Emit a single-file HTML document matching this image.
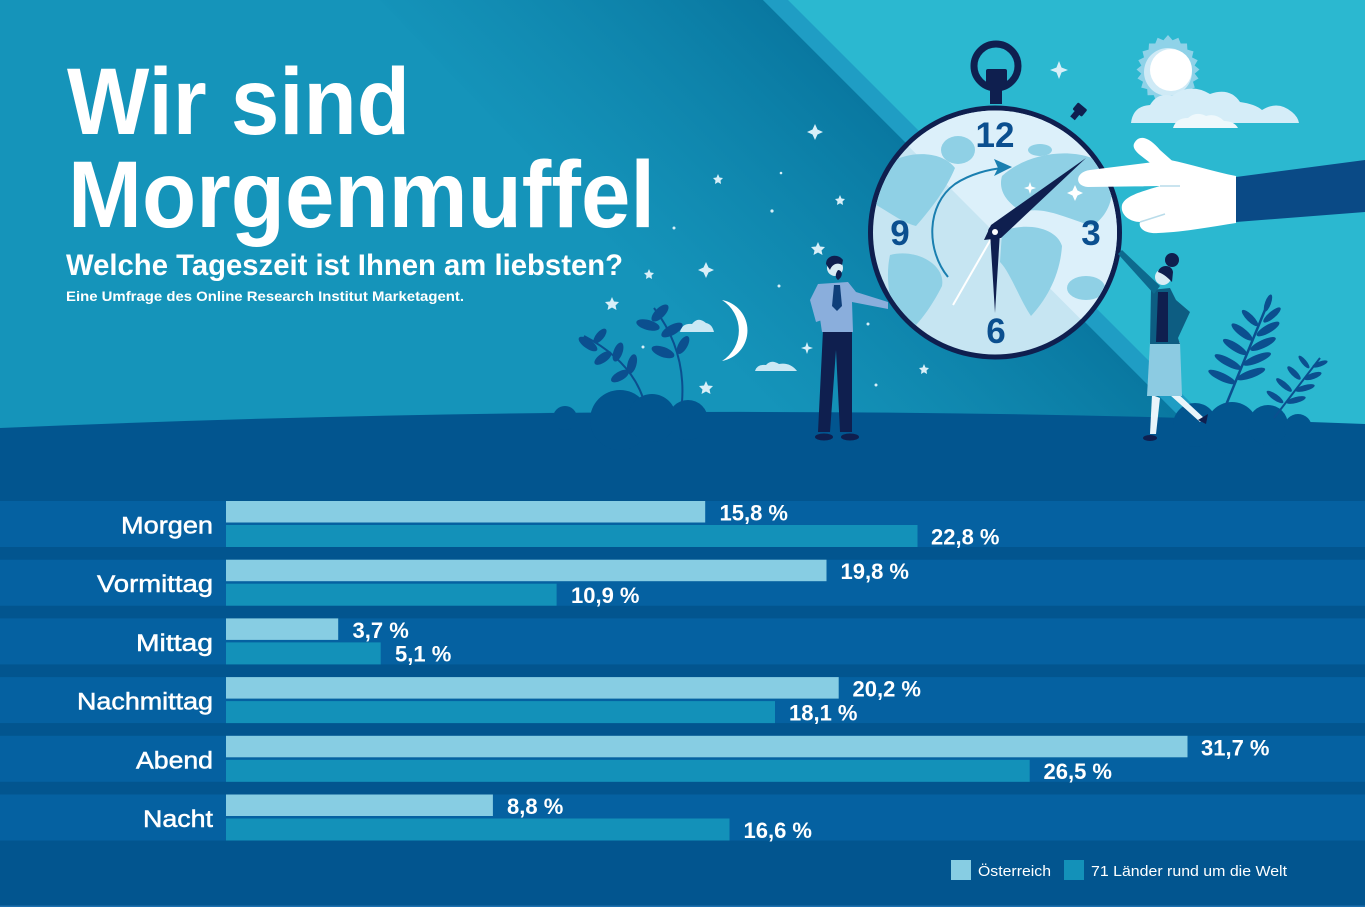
<!DOCTYPE html>
<html>
<head>
<meta charset="utf-8">
<style>
html,body{margin:0;padding:0;background:#02558f;}
svg{display:block;}
text{font-family:"Liberation Sans",Arial,sans-serif;}
</style>
</head>
<body>
<svg width="1365" height="907" viewBox="0 0 1365 907" xmlns="http://www.w3.org/2000/svg">
<defs>
  <linearGradient id="beam" gradientUnits="userSpaceOnUse" x1="560" y1="200" x2="790" y2="-30">
    <stop offset="0" stop-color="#0a7aa3" stop-opacity="0"/>
    <stop offset="1" stop-color="#07739c" stop-opacity="1"/>
  </linearGradient>
  <clipPath id="face"><circle cx="995" cy="232.5" r="122"/></clipPath>
</defs>

<!-- top background -->
<rect x="0" y="0" width="1365" height="460" fill="#1594ba"/>
<polygon points="380,0 763,0 1203,440 800,440" fill="url(#beam)"/>
<polygon points="763,0 790,0 1230,440 1203,440" fill="#1f9dc4"/>
<polygon points="788,0 1365,0 1365,440 1228,440" fill="#2bb8d0"/>

<!-- stars -->
<g fill="#d8eff8">
  <path d="M815,124 L817.5,129.5 L823,132 L817.5,134.5 L815,140 L812.5,134.5 L807,132 L812.5,129.5Z"/>
  <path d="M706,262 L708.5,267.5 L714,270 L708.5,272.5 L706,278 L703.5,272.5 L698,270 L703.5,267.5Z"/>
  <path d="M1059,61 L1061.5,67.5 L1068,70 L1061.5,72.5 L1059,79 L1056.5,72.5 L1050,70 L1056.5,67.5Z"/>
  <path d="M807,342 L808.5,346.5 L813,348 L808.5,349.5 L807,354 L805.5,349.5 L801,348 L805.5,346.5Z"/>
  <polygon points="718,174 719.5,177.5 723,178 720.5,180.5 721,184 718,182.3 715,184 715.5,180.5 713,178 716.5,177.5"/>
  <polygon points="840,195 841.5,198.5 845,199 842.5,201.5 843,205 840,203.3 837,205 837.5,201.5 835,199 838.5,198.5"/>
  <polygon points="818,242 820,246.5 825,247 821.5,250.5 822.5,255 818,252.5 813.5,255 814.5,250.5 811,247 816,246.5"/>
  <polygon points="649,269 650.5,272.5 654,273 651.5,275.5 652,279 649,277.3 646,279 646.5,275.5 644,273 647.5,272.5"/>
  <polygon points="612,297 614,301.5 619,302 615.5,305.5 616.5,310 612,307.5 607.5,310 608.5,305.5 605,302 610,301.5"/>
  <polygon points="924,364 925.5,367.5 929,368 926.5,370.5 927,374 924,372.3 921,374 921.5,370.5 919,368 922.5,367.5"/>
  <polygon points="706,381 708,385.5 713,386 709.5,389.5 710.5,394 706,391.5 701.5,394 702.5,389.5 699,386 704,385.5"/>
  <circle cx="772" cy="211" r="1.6"/>
  <circle cx="674" cy="228" r="1.5"/>
  <circle cx="779" cy="286" r="1.5"/>
  <circle cx="868" cy="324" r="1.5"/>
  <circle cx="876" cy="385" r="1.5"/>
  <circle cx="643" cy="347" r="1.5"/>
  <circle cx="622" cy="378" r="1.5"/>
  <circle cx="781" cy="173" r="1.3"/>
</g>

<!-- moon and small clouds -->
<path d="M722,300 A31,31 0 0 1 722,361 A36,36 0 0 0 722,300 Z" fill="#ffffff"/>
<path d="M680,332 Q682,323 692,324 Q698,316 706,323 Q712,324 714,332 Z" fill="#cbe8f4"/>
<path d="M755,371 Q757,364 766,365 Q771,359 779,364 Q790,362 797,371 Z" fill="#cbe8f4"/>

<!-- sun -->
<g transform="translate(1168,72)">
  <polygon fill="#8fd2e8" points="0,-37 4.6,-31.7 10.4,-34.2 12.7,-28.5 19,-28.5 19.4,-22.4 25.5,-20.6 24,-14.6 29.7,-11.8 26.6,-6.5 31.5,-2.5 26.7,1.6 30.5,6.5 25,9.7 26.8,15.6 20.8,17.1 20.4,23.3 14.3,23.1 11.9,28.9 6.4,26 2.1,31 -2.1,31 -6.4,26 -11.9,28.9 -14.3,23.1 -20.4,23.3 -20.8,17.1 -26.8,15.6 -25,9.7 -30.5,6.5 -26.7,1.6 -31.5,-2.5 -26.6,-6.5 -29.7,-11.8 -24,-14.6 -25.5,-20.6 -19.4,-22.4 -19,-28.5 -12.7,-28.5 -10.4,-34.2 -4.6,-31.7"/>
  <circle cx="0" cy="0" r="24" fill="#cfeaf6"/>
  <circle cx="3" cy="-2" r="21" fill="#ffffff"/>
</g>
<!-- big cloud -->
<path d="M1131,123 Q1133,106 1150,105 Q1158,92 1172,96 Q1190,82 1210,94 Q1230,87 1240,102 Q1255,104 1262,110 Q1278,100 1292,112 Q1298,117 1299,123 Z" fill="#d5edf8"/>
<path d="M1173,128 Q1176,118 1188,118 Q1196,111 1206,116 Q1216,113 1224,121 Q1234,121 1238,128 Z" fill="#eef8fc"/>

<!-- ground -->
<path d="M0,428 Q700,398 1365,424 L1365,907 L0,907 Z" fill="#02558f"/>
<!-- left mound -->
<g fill="#02558f">
  <circle cx="565" cy="418" r="12"/>
  <circle cx="620" cy="420" r="30"/>
  <circle cx="652" cy="418" r="24"/>
  <circle cx="688" cy="420" r="20"/>
  <circle cx="1195" cy="425" r="22"/>
  <circle cx="1232" cy="428" r="26"/>
  <circle cx="1268" cy="425" r="20"/>
  <circle cx="1298" cy="428" r="14"/>
</g>

<!-- left plants -->
<g fill="#0b4f8f" stroke="none">
  <path d="M643,398 Q630,360 584,336" stroke="#0b4f8f" stroke-width="2" fill="none"/>
  <path d="M682,402 Q686,350 654,308" stroke="#0b4f8f" stroke-width="2" fill="none"/>
  <ellipse cx="588" cy="344" rx="11" ry="4.5" transform="rotate(35 588 344)"/>
  <ellipse cx="600" cy="336" rx="9" ry="4" transform="rotate(-50 600 336)"/>
  <ellipse cx="603" cy="358" rx="10" ry="4.5" transform="rotate(-35 603 358)"/>
  <ellipse cx="618" cy="352" rx="10" ry="4.5" transform="rotate(-70 618 352)"/>
  <ellipse cx="620" cy="376" rx="10" ry="4.5" transform="rotate(-30 620 376)"/>
  <ellipse cx="632" cy="364" rx="10" ry="4.5" transform="rotate(-75 632 364)"/>
  <ellipse cx="660" cy="313" rx="11" ry="5" transform="rotate(-45 660 313)"/>
  <ellipse cx="648" cy="325" rx="12" ry="5" transform="rotate(15 648 325)"/>
  <ellipse cx="672" cy="330" rx="12" ry="5" transform="rotate(-30 672 330)"/>
  <ellipse cx="663" cy="352" rx="12" ry="5" transform="rotate(20 663 352)"/>
  <ellipse cx="683" cy="345" rx="10" ry="4.5" transform="rotate(-60 683 345)"/>
</g>

<!-- right plants -->
<g fill="#0b4f8f">
  <path d="M1226,405 L1267,305" stroke="#0b4f8f" stroke-width="2.5"/>
  <path d="M1274,418 L1320,358" stroke="#0b4f8f" stroke-width="2"/>
  <ellipse cx="1222" cy="377" rx="15" ry="4" transform="rotate(25 1222 377)"/>
  <ellipse cx="1251" cy="374" rx="15" ry="4" transform="rotate(-20 1251 374)"/>
  <ellipse cx="1228" cy="362" rx="15" ry="4" transform="rotate(28 1228 362)"/>
  <ellipse cx="1257" cy="359" rx="15" ry="4" transform="rotate(-22 1257 359)"/>
  <ellipse cx="1235" cy="347" rx="14" ry="4" transform="rotate(32 1235 347)"/>
  <ellipse cx="1263" cy="344" rx="14" ry="4" transform="rotate(-25 1263 344)"/>
  <ellipse cx="1242" cy="332" rx="13" ry="4" transform="rotate(38 1242 332)"/>
  <ellipse cx="1268" cy="329" rx="13" ry="4" transform="rotate(-30 1268 329)"/>
  <ellipse cx="1250" cy="318" rx="11" ry="3.5" transform="rotate(45 1250 318)"/>
  <ellipse cx="1272" cy="315" rx="11" ry="3.5" transform="rotate(-40 1272 315)"/>
  <ellipse cx="1268" cy="303" rx="9" ry="3" transform="rotate(-70 1268 303)"/>
  <ellipse cx="1275" cy="397" rx="10" ry="3" transform="rotate(35 1275 397)"/>
  <ellipse cx="1296" cy="400" rx="10" ry="3" transform="rotate(-15 1296 400)"/>
  <ellipse cx="1284" cy="385" rx="10" ry="3" transform="rotate(40 1284 385)"/>
  <ellipse cx="1305" cy="388" rx="10" ry="3" transform="rotate(-15 1305 388)"/>
  <ellipse cx="1294" cy="373" rx="9" ry="3" transform="rotate(45 1294 373)"/>
  <ellipse cx="1313" cy="376" rx="9" ry="3" transform="rotate(-20 1313 376)"/>
  <ellipse cx="1304" cy="362" rx="8" ry="2.5" transform="rotate(50 1304 362)"/>
  <ellipse cx="1320" cy="364" rx="8" ry="2.5" transform="rotate(-20 1320 364)"/>
</g>

<!-- clock top -->
<circle cx="996" cy="66" r="22" fill="none" stroke="#0f1f4f" stroke-width="7"/>
<rect x="986" y="69" width="21" height="17" rx="2" fill="#0f1f4f"/>
<rect x="990" y="84" width="12" height="20" fill="#0f1f4f"/>
<g transform="rotate(40 1077 113)">
  <rect x="1071" y="104" width="12" height="9" rx="1.5" fill="#0f1f4f"/>
  <rect x="1074" y="112" width="6" height="8" fill="#0f1f4f"/>
</g>

<!-- clock face -->
<circle cx="995" cy="232.5" r="127" fill="#0f1f4f"/>
<circle cx="995" cy="232.5" r="122" fill="#c6e5f2"/>
<g clip-path="url(#face)">
  <polygon points="763,0 1400,0 1400,640" fill="#dcf0fa"/>
  <g fill="#8fd0e5">
    <path d="M878,172 C898,150 940,148 955,168 C946,190 930,210 916,226 C900,222 884,208 870,202 Z"/>
    <ellipse cx="958" cy="150" rx="17" ry="14"/>
    <path d="M890,255 C915,248 946,264 942,286 C932,306 918,326 902,338 C892,312 884,282 890,255 Z"/>
    <path d="M1002,176 C1030,150 1082,146 1106,166 C1118,186 1112,214 1092,226 C1062,216 1042,206 1022,212 C1006,202 998,190 1002,176 Z"/>
    <path d="M1002,232 C1022,222 1056,226 1062,246 C1060,276 1046,300 1031,316 C1020,300 1010,272 1000,262 Z"/>
    <ellipse cx="1086" cy="288" rx="19" ry="12"/>
    <ellipse cx="1040" cy="150" rx="12" ry="6"/>
  </g>
</g>

<!-- numbers -->
<g fill="#0b4f8f" font-weight="bold" font-size="35" text-anchor="middle">
  <text x="995" y="147">12</text>
  <text x="900" y="245">9</text>
  <text x="1091" y="245">3</text>
  <text x="996" y="343">6</text>
</g>

<!-- arrow arc -->
<path d="M948,277 C926,250 926,205 955,184 C970,174 990,169 1003,168" fill="none" stroke="#1a7fb0" stroke-width="2"/>
<polygon points="1012,167 994,159 998,168 994,176" fill="#1a7fb0"/>

<!-- hands -->
<line x1="995" y1="232" x2="953" y2="305" stroke="#ffffff" stroke-width="2"/>
<polygon points="984,240 991,225 1086,158 1001,238" fill="#0f1f4f"/>
<polygon points="990,232 995,313 1000,232 995,222" fill="#0f1f4f"/>
<circle cx="995" cy="232" r="7" fill="#0f1f4f"/>
<circle cx="995" cy="232" r="3" fill="#ffffff"/>
<path d="M1030,182 L1031.5,186.5 L1036,188 L1031.5,189.5 L1030,194 L1028.5,189.5 L1024,188 L1028.5,186.5Z" fill="#ffffff"/>
<path d="M1075,185 L1077.5,190.5 L1083,193 L1077.5,195.5 L1075,201 L1072.5,195.5 L1067,193 L1072.5,190.5Z" fill="#ffffff"/>

<!-- pointing hand -->
<polygon points="1236,177 1365,160 1365,212 1236,222" fill="#0a4a86"/>
<g fill="#ffffff">
  <path d="M1236,176 C1215,172 1190,164 1170,160 L1090,170 C1075,172 1074,186 1088,187 L1160,186 C1140,192 1125,196 1122,205 C1120,215 1130,222 1140,222 C1138,228 1145,234 1158,233 C1185,232 1215,226 1236,223 Z"/>
  <path d="M1135,142 C1140,134 1150,138 1160,150 L1178,166 L1162,172 L1140,155 C1134,150 1132,146 1135,142 Z"/>
</g>
<path d="M1160,186 L1180,186 M1140,222 L1165,214" stroke="#b9dcea" stroke-width="1.5" fill="none"/>

<!-- man -->
<g>
  <path d="M823,330 L818,432 L830,432 L836,350 L840,432 L852,432 L852,330 Z" fill="#0f1f4f"/>
  <ellipse cx="824" cy="437" rx="9" ry="3.5" fill="#0f1f4f"/>
  <ellipse cx="850" cy="437" rx="9" ry="3.5" fill="#0f1f4f"/>
  <path d="M818,284 L848,282 L856,292 L888,302 L888,309 L852,302 L853,332 L822,332 L818,305 L822,320 L816,322 L810,300 Z" fill="#8aaedc"/>
  <path d="M834,285 L840,285 L842,306 L837,311 L832,306 Z" fill="#0f3f7a"/>
  <circle cx="835" cy="268" r="8" fill="#d9ecf5"/>
  <path d="M826,264 C826,255 838,253 843,260 L842,265 C838,262 832,264 830,270 Z" fill="#0f1f4f"/>
  <path d="M838,270 C842,270 844,276 838,280 C835,278 835,274 838,270 Z" fill="#0f1f4f"/>
</g>

<!-- woman -->
<g>
  <path d="M1152,395 L1150,434 L1156,434 L1160,398 Z" fill="#e8f4fa"/>
  <path d="M1170,395 L1200,422 L1204,418 L1176,392 Z" fill="#e8f4fa"/>
  <ellipse cx="1150" cy="438" rx="7" ry="3" fill="#0f1f4f"/>
  <path d="M1198,420 L1208,414 L1206,424 Z" fill="#0f1f4f"/>
  <path d="M1150,342 L1180,342 L1182,396 L1147,396 Z" fill="#8ccbe2"/>
  <path d="M1151,290 L1170,288 L1176,300 L1190,312 L1178,338 L1180,344 L1150,344 Z" fill="#0d5d82"/>
  <path d="M1158,292 L1168,292 L1168,342 L1156,342 Z" fill="#0f1f4f"/>
  <path d="M1154,294 L1118,254 L1122,250 L1160,286 Z" fill="#0d6a8e"/>
  <circle cx="1163" cy="277" r="8" fill="#d9ecf5"/>
  <circle cx="1172" cy="260" r="7" fill="#0f1f4f"/>
  <path d="M1158,272 C1160,264 1172,264 1173,272 L1172,282 C1168,278 1164,274 1158,272 Z" fill="#0f1f4f"/>
</g>

<!-- titles -->
<g fill="#ffffff" font-weight="bold">
  <text x="67" y="134" font-size="95" textLength="343" lengthAdjust="spacingAndGlyphs">Wir sind</text>
  <text x="68" y="227" font-size="95" textLength="587" lengthAdjust="spacingAndGlyphs">Morgenmuffel</text>
  <text x="66" y="275" font-size="30" textLength="557" lengthAdjust="spacingAndGlyphs">Welche Tageszeit ist Ihnen am liebsten?</text>
  <text x="66" y="301" font-size="14" textLength="398" lengthAdjust="spacingAndGlyphs">Eine Umfrage des Online Research Institut Marketagent.</text>
</g>

<!-- chart bands -->
<g fill="#0561a1">
  <rect x="0" y="501" width="1365" height="46"/>
  <rect x="0" y="559.7" width="1365" height="46"/>
  <rect x="0" y="618.4" width="1365" height="46"/>
  <rect x="0" y="677.1" width="1365" height="46"/>
  <rect x="0" y="735.8" width="1365" height="46"/>
  <rect x="0" y="794.5" width="1365" height="46"/>
</g>

<!-- light bars (Österreich) -->
<g fill="#87cde3">
  <rect x="226" y="501" width="479.2" height="21.5"/>
  <rect x="226" y="559.7" width="600.5" height="21.5"/>
  <rect x="226" y="618.4" width="112.2" height="21.5"/>
  <rect x="226" y="677.1" width="612.7" height="21.5"/>
  <rect x="226" y="735.8" width="961.5" height="21.5"/>
  <rect x="226" y="794.5" width="266.9" height="21.5"/>
</g>
<!-- dark bars (71 Länder) -->
<g fill="#1391b9">
  <rect x="226" y="525" width="691.5" height="22"/>
  <rect x="226" y="583.7" width="330.6" height="22"/>
  <rect x="226" y="642.4" width="154.7" height="22"/>
  <rect x="226" y="701.1" width="549.0" height="22"/>
  <rect x="226" y="759.8" width="803.7" height="22"/>
  <rect x="226" y="818.5" width="503.5" height="22"/>
</g>

<!-- category labels -->
<g fill="#ffffff" font-size="24" text-anchor="end" stroke="#ffffff" stroke-width="0.5">
  <text x="213" y="533.5" textLength="92" lengthAdjust="spacingAndGlyphs">Morgen</text>
  <text x="213" y="592.2" textLength="116" lengthAdjust="spacingAndGlyphs">Vormittag</text>
  <text x="213" y="650.9" textLength="77" lengthAdjust="spacingAndGlyphs">Mittag</text>
  <text x="213" y="709.6" textLength="136" lengthAdjust="spacingAndGlyphs">Nachmittag</text>
  <text x="213" y="768.3" textLength="77" lengthAdjust="spacingAndGlyphs">Abend</text>
  <text x="213" y="827" textLength="70" lengthAdjust="spacingAndGlyphs">Nacht</text>
</g>

<!-- value labels -->
<g fill="#ffffff" font-size="22" font-weight="bold">
  <text x="719.5" y="520.5">15,8 %</text>
  <text x="931" y="544.3">22,8 %</text>
  <text x="840.5" y="579.2">19,8 %</text>
  <text x="571" y="603">10,9 %</text>
  <text x="352.5" y="637.9">3,7 %</text>
  <text x="395" y="661.7">5,1 %</text>
  <text x="852.5" y="696.6">20,2 %</text>
  <text x="789" y="720.4">18,1 %</text>
  <text x="1201" y="755.3">31,7 %</text>
  <text x="1043.5" y="779.1">26,5 %</text>
  <text x="507" y="814">8,8 %</text>
  <text x="743.5" y="837.8">16,6 %</text>
</g>

<!-- legend -->
<rect x="951" y="860" width="20" height="20" fill="#87cde3"/>
<text x="978" y="876" font-size="15" fill="#ffffff" textLength="73" lengthAdjust="spacingAndGlyphs">Österreich</text>
<rect x="1064" y="860" width="20" height="20" fill="#1391b9"/>
<text x="1091" y="876" font-size="15" fill="#ffffff" textLength="196" lengthAdjust="spacingAndGlyphs">71 Länder rund um die Welt</text>

<rect x="0" y="905.5" width="1365" height="1.5" fill="#1d6fae"/>
</svg>
</body>
</html>
